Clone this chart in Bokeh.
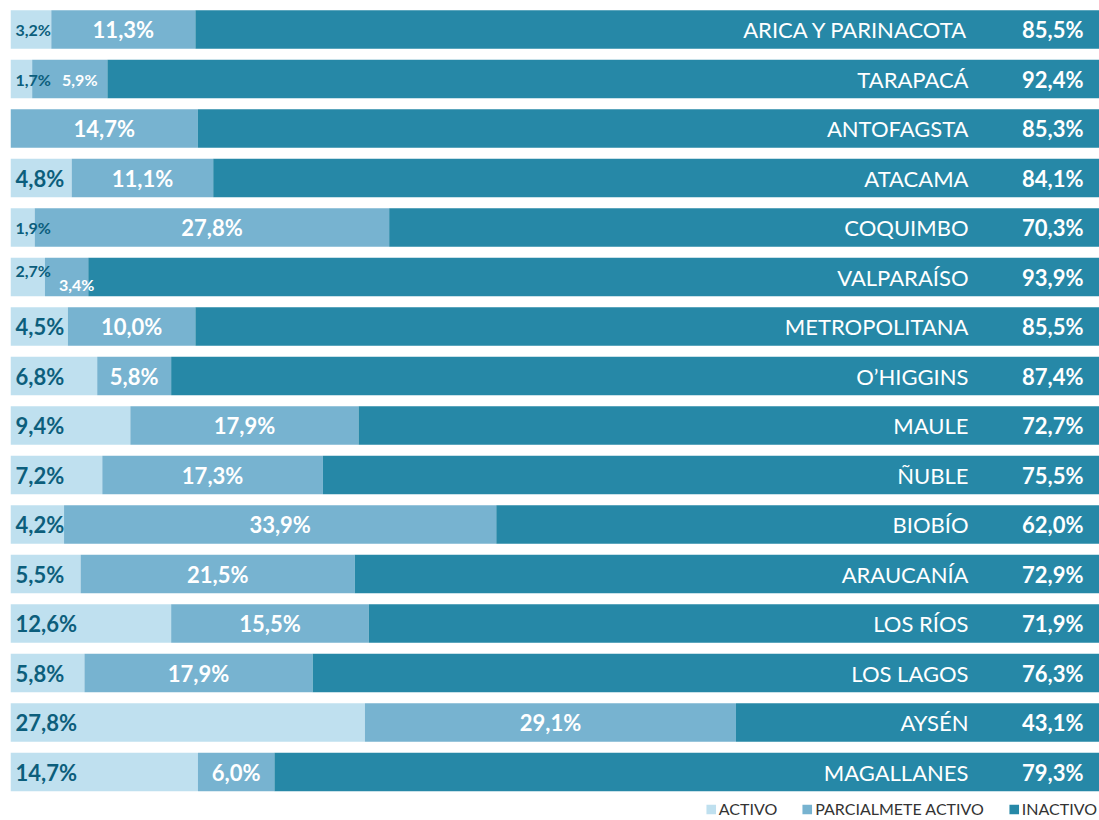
from bokeh.plotting import figure
from bokeh.models import ColumnDataSource, Range1d, Legend, LegendItem
from bokeh.core.properties import value
from bokeh.embed import file_html
from bokeh.resources import INLINE

regions = ["ARICA Y PARINACOTA", "TARAPACÁ", "ANTOFAGSTA", "ATACAMA", "COQUIMBO",
           "VALPARAÍSO", "METROPOLITANA", "O’HIGGINS", "MAULE", "ÑUBLE", "BIOBÍO",
           "ARAUCANÍA", "LOS RÍOS", "LOS LAGOS", "AYSÉN", "MAGALLANES"]
activo = [3.2, 1.7, 0.0, 4.8, 1.9, 2.7, 4.5, 6.8, 9.4, 7.2, 4.2, 5.5, 12.6, 5.8, 27.8, 14.7]
parcial = [11.3, 5.9, 14.7, 11.1, 27.8, 3.4, 10.0, 5.8, 17.9, 17.3, 33.9, 21.5, 15.5, 17.9, 29.1, 6.0]
inactivo = [85.5, 92.4, 85.3, 84.1, 70.3, 93.9, 85.5, 87.4, 72.7, 75.5, 62.0, 72.9, 71.9, 76.3, 43.1, 79.3]
series = ["ACTIVO", "PARCIALMETE ACTIVO", "INACTIVO"]

C_LIGHT = "#bfe0ef"
C_MID = "#77b3d0"
C_DARK = "#2688a7"
C_TEXT_DARK = "#0c5e7c"

FONT = value("Lato")

def fmt(v):
    return (f"{v:.1f}".replace(".", ",") + "%") if v > 0 else ""

n = len(regions)
ys = list(range(n))
a_end = [a for a in activo]
p_end = [a + p for a, p in zip(activo, parcial)]

small_a = [a < 4 for a in activo]
small_p = [(p < 6 and a < 4) for a, p in zip(activo, parcial)]
stagger = [sa and p < 4 for sa, p in zip(small_a, parcial)]

src = ColumnDataSource(dict(
    y=ys,
    zero=[0] * n,
    a_end=a_end,
    p_end=p_end,
    full=[a + p + i for a, p, i in zip(activo, parcial, inactivo)],
    p_mid=[a + p / 2 for a, p in zip(activo, parcial)],
    a_lbl=[fmt(v) for v in activo],
    p_lbl=[fmt(v) for v in parcial],
    a_fs=["16px" if s else "22px" for s in small_a],
    p_fs=["16px" if s else "22px" for s in small_p],
    a_yo=[-7 if b else 0 for b in stagger],
    p_yo=[7 if b else 0 for b in stagger],
    p_xo=[10 if s else 0 for s in small_p],
))

PX_PER_UNIT = 12.75
W, H = 1099, 820
LEFT = 10
ROW_PX = 49.5
TOP_CENTER = 29
frame_w = W - LEFT
p = figure(width=W, height=H, output_backend="svg", toolbar_location=None,
           min_border_left=LEFT, min_border_right=0, min_border_top=0, min_border_bottom=0,
           x_range=Range1d(0, frame_w / PX_PER_UNIT),
           y_range=Range1d((H - TOP_CENTER) / ROW_PX, -TOP_CENTER / ROW_PX))
p.axis.visible = False
p.grid.visible = False
p.outline_line_color = None
p.background_fill_color = "white"

bh = 38.5 / ROW_PX
r1 = p.hbar(y="y", left="zero", right="a_end", height=bh, source=src, color=C_LIGHT, line_color=None)
r2 = p.hbar(y="y", left="a_end", right="p_end", height=bh, source=src, color=C_MID, line_color=None)
r3 = p.hbar(y="y", left="p_end", right="full", height=bh, source=src, color=C_DARK, line_color=None)

p.text(x="zero", y="y", text="a_lbl", source=src, x_offset=5, y_offset="a_yo",
       text_font=FONT, text_font_style="bold", text_font_size="a_fs",
       text_color=C_TEXT_DARK, text_align="left", text_baseline="middle")
p.text(x="p_mid", y="y", text="p_lbl", source=src, x_offset="p_xo", y_offset="p_yo",
       text_font=FONT, text_font_style="bold", text_font_size="p_fs",
       text_color="white", text_align="center", text_baseline="middle")

x_name = (968 - LEFT) / PX_PER_UNIT
x_pct = (1083 - LEFT) / PX_PER_UNIT
src2 = ColumnDataSource(dict(y=ys, name=regions, i_lbl=[fmt(v) for v in inactivo],
                             xn=[x_name] * n, xp=[x_pct] * n))
p.text(x="xn", y="y", text="name", source=src2, text_font=FONT, text_font_size="22px",
       text_color="white", text_align="right", text_baseline="middle")
p.text(x="xp", y="y", text="i_lbl", source=src2, text_font=FONT, text_font_style="bold",
       text_font_size="22px", text_color="white", text_align="right", text_baseline="middle")

legend = Legend(items=[LegendItem(label=series[0], renderers=[r1]),
                       LegendItem(label=series[1], renderers=[r2]),
                       LegendItem(label=series[2], renderers=[r3])],
                location="bottom_right", orientation="horizontal",
                background_fill_alpha=0, border_line_color=None,
                glyph_width=12, glyph_height=12, label_height=14,
                label_standoff=2, spacing=24, padding=0, margin=2,
                label_text_font="Lato", label_text_font_size="16px",
                label_text_color="#333333")
p.add_layout(legend)

open("out.html", "w").write(file_html(p, INLINE))
